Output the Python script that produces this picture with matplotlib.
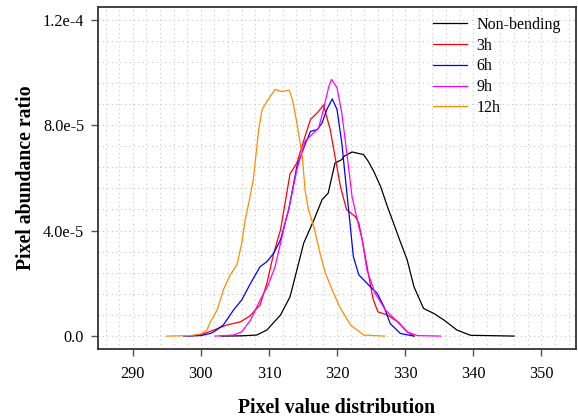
import matplotlib

matplotlib.use("Agg")
import matplotlib.pyplot as plt
import numpy as np
from matplotlib.ticker import MultipleLocator

plt.rcParams["font.family"] = ["Liberation Serif", "DejaVu Serif"]

# values (y in units of 1e-5)
nonbend_x = [303.0, 306.0, 308.2, 309.7, 311.7, 313.1, 314.1, 315.1, 316.6, 317.8, 318.7, 319.7,
             320.7, 321.0, 322.2, 323.9, 324.6, 325.4, 326.4, 327.4, 328.3, 329.1, 330.3, 331.3,
             332.7, 334.2, 335.7, 337.6, 339.6, 342.0, 346.0]
nonbend_y = [0, 0.01, 0.04, 0.23, 0.8, 1.49, 2.5, 3.52, 4.4, 5.17, 5.42, 6.56,
             6.69, 6.81, 6.98, 6.88, 6.62, 6.24, 5.67, 4.91, 4.28, 3.71, 2.89, 1.87,
             1.05, 0.86, 0.61, 0.23, 0.03, 0.02, 0]

h3_x = [298.2, 300.0, 301.9, 303.8, 305.8, 307.2, 308.7, 309.7, 310.7, 311.7, 313.1, 314.1,
        315.3, 316.1, 317.3, 318.0, 319.0, 319.7, 320.5, 321.4, 322.7, 323.2, 323.7, 324.5,
        325.3, 326.0, 327.4, 329.1, 330.3, 331.3]
h3_y = [0, 0.05, 0.23, 0.42, 0.54, 0.76, 1.18, 2.0, 3.14, 4.03, 6.15, 6.56,
        7.57, 8.21, 8.52, 8.76, 7.83, 6.81, 5.67, 4.79, 4.53, 4.28, 3.65, 2.5,
        1.4, 0.92, 0.8, 0.51, 0.16, 0]

h6_x = [297.5, 300.0, 301.4, 301.9, 303.3, 304.8, 306.0, 307.3, 308.7, 309.7, 310.7, 311.7,
        312.9, 314.1, 315.3, 316.1, 317.1, 317.8, 318.5, 319.3, 320.0, 320.7, 321.2, 321.7,
        322.0, 322.4, 323.2, 324.9, 325.9, 326.9, 327.8, 329.3, 331.3]
h6_y = [0, 0.02, 0.1, 0.16, 0.42, 0.99, 1.37, 2.0, 2.63, 2.82, 3.14, 3.65,
        4.79, 6.43, 7.26, 7.76, 7.83, 8.08, 8.59, 8.99, 8.59, 7.32, 6.05, 4.79,
        4.03, 3.01, 2.32, 1.87, 1.62, 1.11, 0.48, 0.1, 0]

h9_x = [302.1, 304.8, 306.0, 307.3, 308.7, 309.9, 310.9, 311.7, 312.6, 312.9, 314.1, 315.3,
        316.3, 317.3, 318.0, 318.8, 319.2, 320.0, 320.7, 321.5, 322.2, 323.2, 323.7, 324.4,
        325.6, 327.1, 328.6, 330.3, 331.8, 335.2]
h9_y = [0, 0.04, 0.16, 0.61, 1.37, 1.94, 2.63, 3.52, 4.53, 4.79, 6.31, 7.38,
        7.64, 7.89, 8.59, 9.47, 9.73, 9.41, 8.46, 6.81, 5.29, 4.15, 3.65, 2.5,
        1.62, 0.99, 0.61, 0.16, 0.02, 0]

h12_x = [295.0, 298.5, 300.0, 300.9, 301.4, 302.4, 303.3, 304.3, 305.3, 306.0, 306.5, 307.0,
         307.7, 308.5, 309.0, 309.7, 310.9, 311.7, 312.1, 313.0, 313.5, 314.1, 314.9, 315.3,
         315.8, 316.6, 317.5, 318.3, 319.5, 320.5, 322.0, 323.9, 327.0]
h12_y = [0, 0.02, 0.08, 0.23, 0.54, 0.99, 1.75, 2.32, 2.7, 3.52, 4.4, 5.0,
         5.93, 7.83, 8.59, 8.9, 9.35, 9.28, 9.28, 9.32, 8.9, 8.08, 6.81, 5.55,
         4.79, 4.15, 3.14, 2.38, 1.62, 1.05, 0.42, 0.04, 0]

series = [
    ("Non-bending", nonbend_x, nonbend_y, "black"),
    ("3h", h3_x, h3_y, "#ff0000"),
    ("6h", h6_x, h6_y, "#0000ff"),
    ("9h", h9_x, h9_y, "#ff00ff"),
    ("12h", h12_x, h12_y, "#ff8c00"),
]

x_ticks = [290, 300, 310, 320, 330, 340, 350]
y_ticks = [0, 4e-5, 8e-5, 1.2e-4]
y_tick_labels = ["0.0", "4.0e-5", "8.0e-5", "1.2e-4"]

fig = plt.figure(figsize=(5.78, 4.2), dpi=100)
ax = fig.add_axes([0.1696, 0.169, 0.827, 0.814])

for name, xs, ys, color in series:
    ax.plot(xs, np.array(ys) * 1e-5, color=color, linewidth=0.9, label=name)

ax.set_xlim(284.9, 355.1)
ax.set_ylim(-4.9e-6, 1.247e-4)
ax.set_xticks(x_ticks)
ax.set_yticks(y_ticks)
ax.set_yticklabels(y_tick_labels)
ax.xaxis.set_minor_locator(MultipleLocator(2))
ax.yaxis.set_minor_locator(MultipleLocator(8e-6))
ax.grid(True, which="both", color="#c8c8c8", linestyle=(0, (1, 3)), linewidth=0.8)
ax.tick_params(which="minor", length=0)
ax.tick_params(which="major", direction="out", length=5, width=1, color="#555555",
               labelsize=11.7)
ax.tick_params(axis="x", pad=7)
ax.tick_params(axis="y", pad=5)

for sp in ax.spines.values():
    sp.set_color("#333333")
    sp.set_linewidth(1.3)

ax.set_xlabel("Pixel value distribution", fontsize=14.2, fontweight="bold", labelpad=12)
ax.set_ylabel("Pixel abundance ratio", fontsize=14.2, fontweight="bold", labelpad=5)

ax.legend(loc="upper right", bbox_to_anchor=(0.985, 0.995), frameon=False, fontsize=11.5,
          handlelength=2.1, handletextpad=0.6, labelspacing=0.3, borderaxespad=0.1)

fig.savefig("out.png", dpi=100)
